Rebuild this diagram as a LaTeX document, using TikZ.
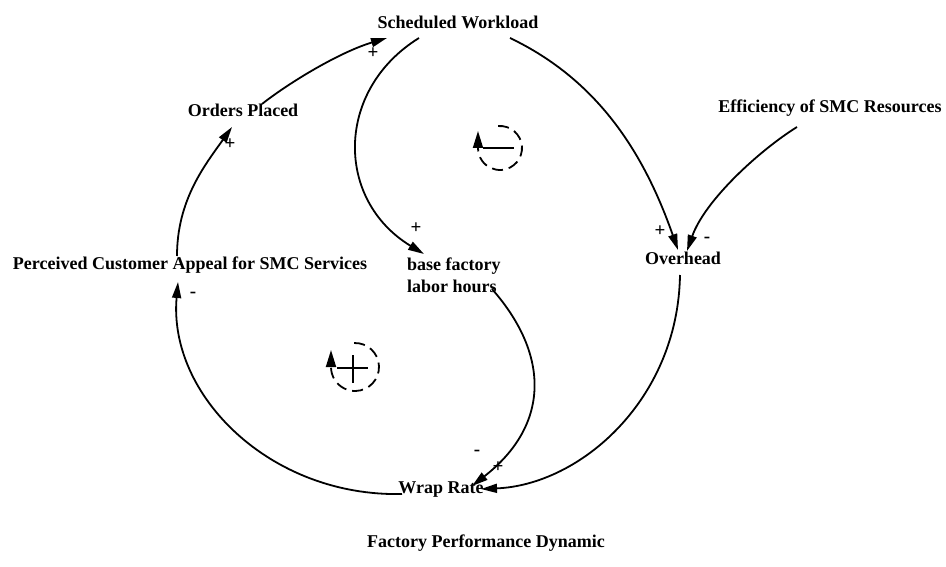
\documentclass[tikz,border=0pt]{standalone}
\usepackage{fontspec}
\setmainfont{Liberation Serif}
\usetikzlibrary{arrows.meta}
\begin{document}
\begin{tikzpicture}[x=1pt,y=-1pt,
  var/.style={inner sep=0pt,font=\bfseries\fontsize{18}{22}\selectfont},
  link/.style={line width=1.8pt,-{Triangle[length=16pt,width=9pt]}},
  pol/.style={inner sep=0pt,font=\bfseries\fontsize{19}{19}\selectfont},
  loop/.style={line width=1.8pt,dash pattern=on 11pt off 6pt,
    -{Triangle[length=17pt,width=10pt]}},
  loopsign/.style={line width=2.8pt}]
\useasboundingbox (0,0) rectangle (946,567);

% variables
\node[var] (sched)  at (458,22)  {Scheduled Workload};
\node[var] (orders) at (243,110) {Orders Placed};
\node[var] (eff)    at (830,108) {Efficiency of SMC Resources};
\node[var] (perc)   at (190,265) {Perceived Customer Appeal for SMC Services};
\node[var,anchor=west,align=left] (base) at (407,275) {base factory\\labor hours};
\node[var] (over)   at (683,258) {Overhead};
\node[var] (wrap)   at (441,490) {Wrap Rate};
\node[var] (title)  at (486,543) {Factory Performance Dynamic};

% causal links
\draw[link] ([shift={(19,-6)}]orders.center) .. controls (290,82) and (340,52) .. ([shift={(-71,16)}]sched.center);
\draw[link] ([shift={(-39,16)}]sched.center) .. controls (335,90) and (335,200) .. ([shift={(17,-21)}]base.west);
\draw[link] ([shift={(52,16)}]sched.center) .. controls (600,81) and (645,156) .. ([shift={(-5,-8)}]over.center);
\draw[link] ([shift={(-33,19)}]eff.center) .. controls (760,150) and (705,200) .. ([shift={(4,-7)}]over.center);
\draw[link] ([shift={(-3,17)}]over.center) .. controls (678,400) and (580,485) .. ([shift={(40,-1)}]wrap.center);
\draw[link] ([shift={(85,14)}]base.west) .. controls (550,355) and (550,425) .. ([shift={(31,-4)}]wrap.center);
\draw[link] ([shift={(-39,4)}]wrap.center) .. controls (270,497) and (168,395) .. ([shift={(-12,17)}]perc.center);
\draw[link] ([shift={(-13,-9)}]perc.center) .. controls (177,200) and (205,165) .. ([shift={(-11,17)}]orders.center);

% link polarities
\node[pol] (pA) at (373,53)  {+};
\node[pol] (pB) at (416,228) {+};
\node[pol] (pC) at (660,231) {+};
\node[pol] (pD) at (707,240) {-};
\node[pol] (pE) at (477,453) {-};
\node[pol] (pF) at (498,467) {+};
\node[pol] (pG) at (193,295) {-};
\node[pol] (pH) at (230,144) {+};

% balancing loop
\coordinate (bal) at (500,148);
\draw[loop] ([shift={(-95:22)}]bal) arc[start angle=-95,end angle=180,radius=22] -- ++(0,-17);
\draw[loopsign] ([xshift=-17]bal) -- ([xshift=14]bal);

% reinforcing loop
\coordinate (rei) at (355,367);
\draw[loop] ([shift={(-92:24)}]rei) arc[start angle=-92,end angle=180,radius=24] -- ++(0,-17);
\draw[loopsign] ([shift={(-18,1)}]rei) -- ([shift={(13,1)}]rei);
\draw[loopsign] ([shift={(-2,-12)}]rei) -- ([shift={(-2,16)}]rei);
\end{tikzpicture}
\end{document}
